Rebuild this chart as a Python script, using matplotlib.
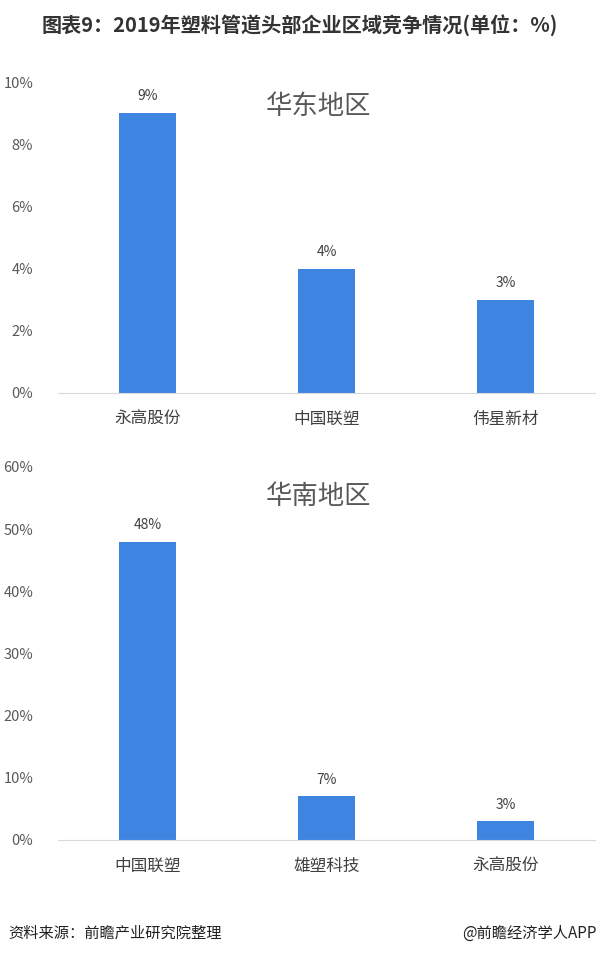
import matplotlib
matplotlib.use('Agg')
import matplotlib.pyplot as plt
import numpy as np

plt.rcParams['font.family'] = ['Noto Sans CJK SC', 'DejaVu Sans']

title = '图表9：2019年塑料管道头部企业区域竞争情况(单位：%)'

east_names = ['永高股份', '中国联塑', '伟星新材']
east_values = [9, 4, 3]
east_ticks = [0, 2, 4, 6, 8, 10]

south_names = ['中国联塑', '雄塑科技', '永高股份']
south_values = [48, 7, 3]
south_ticks = [0, 10, 20, 30, 40, 50, 60]

bar_color = '#3D85E0'
text_color = '#404040'

fig = plt.figure(figsize=(6, 9.58), dpi=100)

def draw_panel(rect, names, values, ticks, label):
	ax = fig.add_axes(rect)
	x = np.arange(len(names))
	ax.bar(x, values, width=0.32, color=bar_color)
	for xi, v in zip(x, values):
		ax.annotate('%d%%' % v, (xi, v), xytext=(0, 7), textcoords='offset points',
			ha='center', va='bottom', fontsize=10, color=text_color)
	ax.set_xlim(-0.5, len(names) - 0.5)
	ax.set_ylim(ticks[0], ticks[-1])
	ax.set_yticks(ticks)
	ax.set_yticklabels(['%d%%' % t for t in ticks], fontsize=10.5, color='#595959')
	ax.set_xticks(x)
	ax.set_xticklabels(names, fontsize=12, color=text_color)
	ax.tick_params(length=0)
	ax.tick_params(axis='y', pad=18)
	ax.tick_params(axis='x', pad=13)
	for s in ['top', 'right', 'left']:
		ax.spines[s].set_visible(False)
	ax.spines['bottom'].set_color('#d9d9d9')
	ax.text(0.485, 0.92, label, transform=ax.transAxes, ha='center', va='center',
		fontsize=19, color='#595959')
	return ax

draw_panel([0.097, 0.5898, 0.895, 0.3246], east_names, east_values, east_ticks, '华东地区')
draw_panel([0.097, 0.1232, 0.895, 0.3894], south_names, south_values, south_ticks, '华南地区')

fig.text(0.5, 0.974, title, ha='center', va='center', fontsize=14.5, fontweight='bold', color='#333333')
fig.text(0.013, 0.026, '资料来源：前瞻产业研究院整理', ha='left', va='center', fontsize=11, color='#222222')
fig.text(0.995, 0.026, '@前瞻经济学人APP', ha='right', va='center', fontsize=11, color='#222222')

fig.savefig('out.png', dpi=100, facecolor='white')
